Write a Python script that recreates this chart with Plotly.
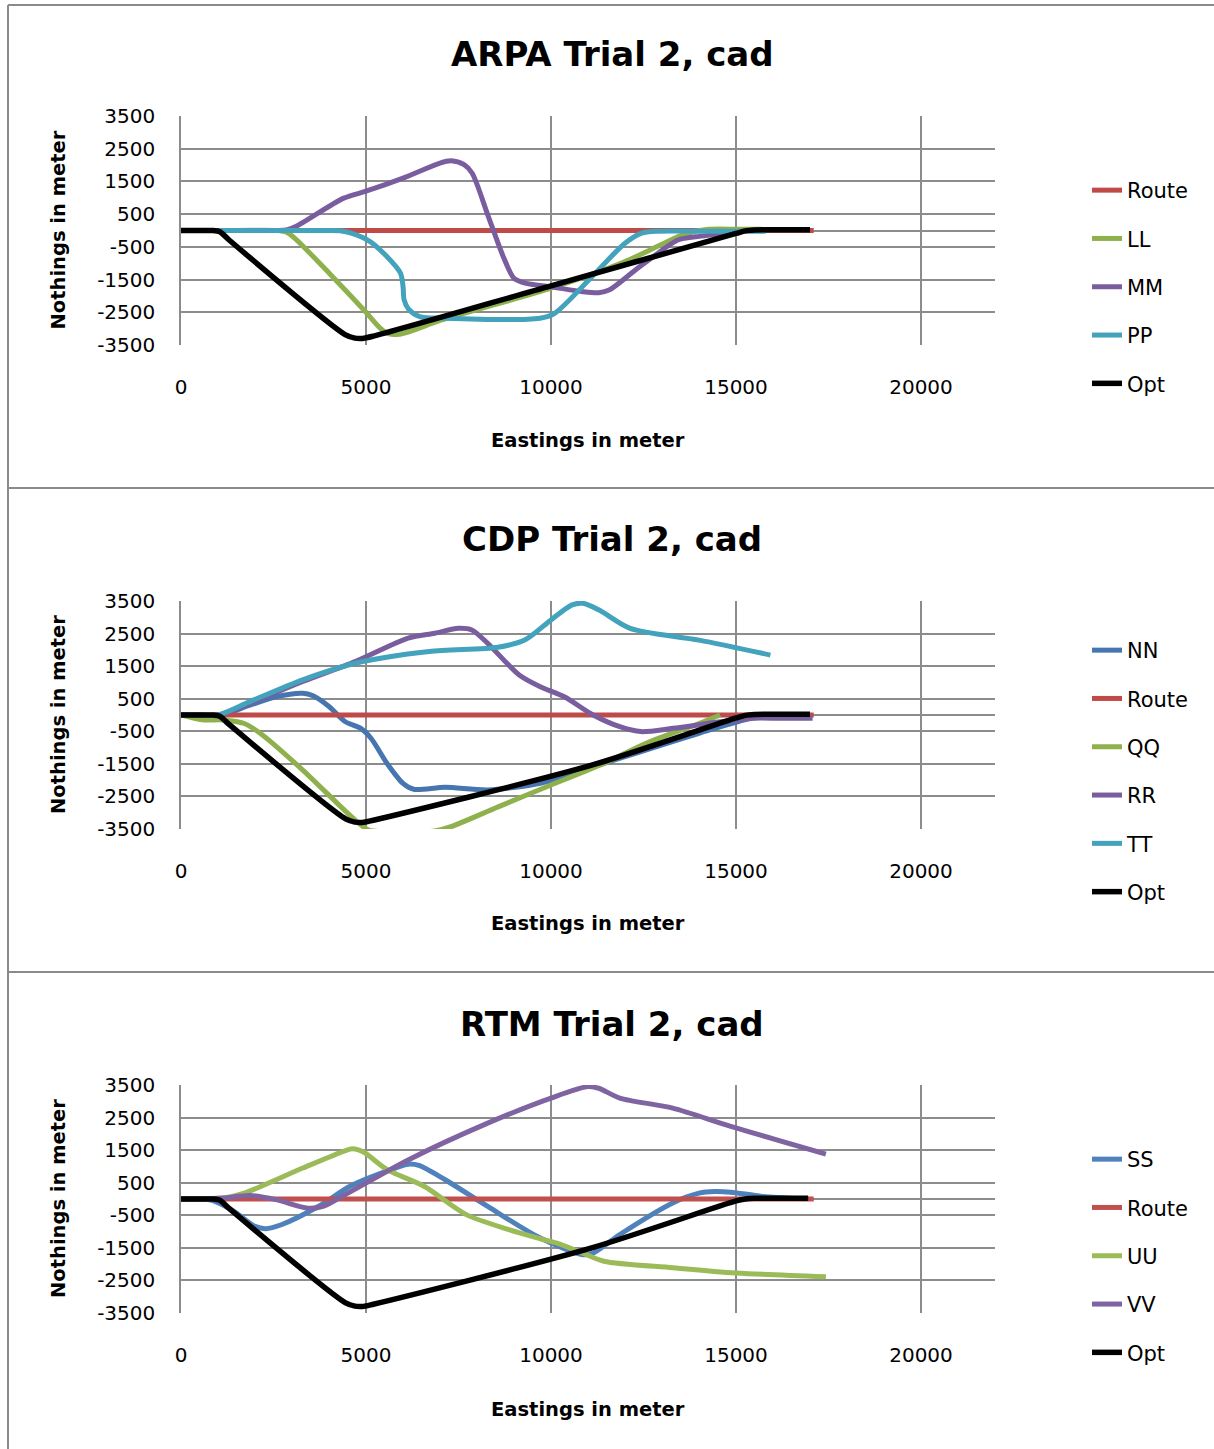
import plotly.graph_objects as go

W, H = 1214, 1449
FONT = "DejaVu Sans"

# ---------------- data ----------------
x_ticks = [0, 5000, 10000, 15000, 20000]
x_tick_labels = ["0", "5000", "10000", "15000", "20000"]
y_ticks = [-3500, -2500, -1500, -500, 500, 1500, 2500, 3500]
y_tick_labels = ["-3500", "-2500", "-1500", "-500", "500", "1500", "2500", "3500"]

panel_titles = ["ARPA Trial 2, cad", "CDP Trial 2, cad", "RTM Trial 2, cad"]

# Panel 1: ARPA
route1_x = [0, 17100]
route1_y = [0, 0]
ll1_x = [0, 1500, 2600, 2850, 3100, 4000, 5000, 5400, 5650, 5900, 6200, 7000, 8000, 9000, 10000, 11000, 12000, 13000, 13600, 14200, 15000, 15700]
ll1_y = [0, 0, 0, -50, -260, -1300, -2500, -3000, -3170, -3170, -3080, -2750, -2420, -2100, -1760, -1380, -950, -420, -110, 30, 40, 40]
mm1_x = [0, 1500, 2600, 2850, 3100, 4400, 5000, 6000, 7000, 7300, 7650, 7870, 8290, 8710, 9000, 9300, 10000, 10860, 11290, 11570, 12290, 13140, 13430, 14000, 14900]
mm1_y = [0, 0, 0, 20, 120, 990, 1200, 1600, 2060, 2130, 2010, 1750, 480, -800, -1460, -1610, -1720, -1870, -1900, -1820, -1200, -490, -290, -180, -80]
pp1_x = [0, 2000, 4000, 4300, 4600, 5100, 5550, 5930, 6000, 6030, 6150, 6450, 7100, 9700, 10100, 11100, 12000, 12450, 12900, 14000, 15800]
pp1_y = [0, 0, 0, -10, -80, -330, -780, -1300, -1700, -2120, -2400, -2630, -2680, -2680, -2530, -1420, -390, -80, -20, -20, -20]
opt1_x = [0, 500, 850, 1050, 1300, 4450, 4700, 4900, 5200, 10000, 15000, 15250, 15500, 16000, 17000]
opt1_y = [0, 0, 0, -40, -290, -3190, -3290, -3300, -3230, -1690, -90, -10, 15, 20, 20]

# Panel 2: CDP
nn2_x = [0, 500, 1000, 1860, 2570, 3290, 3570, 4000, 4430, 4860, 5140, 5570, 6000, 6290, 7140, 8290, 9710, 11140, 14000, 15430, 16200, 17000]
nn2_y = [0, 0, -30, 300, 560, 670, 590, 260, -200, -410, -720, -1490, -2100, -2280, -2220, -2300, -2100, -1590, -560, -100, -40, -30]
route2_x = [0, 17100]
route2_y = [0, 0]
qq2_x = [0, 570, 1140, 1710, 2140, 3290, 4710, 5070, 5710, 6860, 7290, 8570, 10000, 11430, 12570, 14000, 14570]
qq2_y = [0, -150, -150, -260, -560, -1690, -3230, -3530, -3590, -3560, -3430, -2820, -2150, -1490, -870, -260, 0]
rr2_x = [0, 500, 1000, 1860, 3290, 4710, 6140, 6860, 7500, 7860, 8290, 9140, 9710, 10360, 11140, 11860, 12430, 13290, 14570, 15430, 16200, 17070]
rr2_y = [0, 0, 0, 360, 1030, 1640, 2360, 2510, 2660, 2610, 2200, 1230, 870, 560, 0, -360, -510, -410, -210, -100, -100, -100]
tt2_x = [0, 500, 1000, 1860, 3290, 4710, 6710, 8570, 9290, 10000, 10570, 10860, 11290, 12140, 14000, 15930]
tt2_y = [0, 0, 0, 410, 1080, 1590, 1950, 2080, 2300, 2920, 3380, 3430, 3230, 2660, 2300, 1840]
opt2_x = [0, 500, 850, 1050, 1300, 4450, 4700, 4900, 5200, 11100, 15000, 15250, 15500, 16000, 17000]
opt2_y = [0, 0, 0, -40, -290, -3190, -3290, -3300, -3230, -1540, -90, -10, 15, 20, 20]

# Panel 3: RTM
ss3_x = [0, 500, 860, 1430, 2000, 2290, 2710, 3710, 4570, 5430, 6140, 6430, 7140, 8290, 9710, 10860, 11140, 11860, 13290, 14000, 14430, 14860, 15710, 16860]
ss3_y = [0, 0, -50, -380, -840, -910, -790, -230, 390, 800, 1070, 1030, 590, -230, -1200, -1710, -1660, -1090, -120, 180, 230, 210, 80, 10]
route3_x = [0, 17100]
route3_y = [0, 0]
uu3_x = [0, 500, 1140, 1710, 3290, 4430, 4640, 4930, 5570, 6570, 7710, 8860, 9710, 10140, 10860, 11430, 13290, 15000, 17430]
uu3_y = [0, 0, 30, 180, 950, 1480, 1540, 1440, 900, 390, -480, -940, -1220, -1350, -1660, -1910, -2110, -2270, -2390]
vv3_x = [0, 500, 1140, 1860, 2570, 3430, 3860, 4430, 6140, 8290, 10000, 11000, 11290, 11860, 13290, 14860, 17430]
vv3_y = [0, 0, 30, 110, -20, -280, -220, 130, 1200, 2330, 3100, 3450, 3400, 3100, 2790, 2230, 1380]
opt3_x = [0, 500, 850, 1050, 1300, 4450, 4700, 4900, 5200, 11100, 15000, 15250, 15500, 16000, 16950]
opt3_y = [0, 0, 0, -40, -290, -3190, -3290, -3300, -3230, -1500, -60, 0, 20, 20, 20]

RED = "#BE4B48"
GREEN = "#8FB14D"
PURPLE = "#7A5D9E"
AQUA = "#43A2BC"
BLUE = "#4675B0"
BLACK = "#000000"

panels = [
    [("Route", route1_x, route1_y, RED), ("LL", ll1_x, ll1_y, GREEN),
     ("MM", mm1_x, mm1_y, PURPLE), ("PP", pp1_x, pp1_y, AQUA), ("Opt", opt1_x, opt1_y, BLACK)],
    [("NN", nn2_x, nn2_y, BLUE), ("Route", route2_x, route2_y, RED), ("QQ", qq2_x, qq2_y, GREEN),
     ("RR", rr2_x, rr2_y, PURPLE), ("TT", tt2_x, tt2_y, AQUA), ("Opt", opt2_x, opt2_y, BLACK)],
    [("SS", ss3_x, ss3_y, "#4F81BD"), ("Route", route3_x, route3_y, "#C0504D"), ("UU", uu3_x, uu3_y, "#9BBB59"),
     ("VV", vv3_x, vv3_y, "#8064A2"), ("Opt", opt3_x, opt3_y, BLACK)],
]

# ---------------- layout geometry (pixels) ----------------
plot_left, plot_right = 181, 995
plot_tops = [116, 601, 1085]
plot_bottoms = [345, 829, 1313]
title_y = [54, 539, 1024]
xtitle_y = [440, 924, 1409]
legend_top = [170, 630, 1139]

def px_x(p):
    return p / W

def px_y(p):
    return 1 - p / H

fig = go.Figure()
layout = dict(
    width=W, height=H, margin=dict(l=0, r=0, t=0, b=0, autoexpand=False),
    paper_bgcolor="white", plot_bgcolor="white",
    font=dict(family=FONT, color="black"),
    showlegend=True,
)
GRID = "#8C8C8C"
annotations = []
shapes = []

for i, series in enumerate(panels):
    n = "" if i == 0 else str(i + 1)
    xa, ya = "x" + n, "y" + n
    leg = "legend" + n
    for name, xs, ys, col in series:
        fig.add_trace(go.Scatter(
            x=xs, y=ys, name=name, mode="lines",
            line=dict(color=col, width=5.5 if col == BLACK else 5, shape="spline", smoothing=0.8),
            xaxis=xa, yaxis=ya, legend=leg, legendgroup=f"{leg}_{name}",
        ))
    layout["xaxis" + n] = dict(
        domain=[px_x(plot_left), px_x(plot_right)], anchor=ya,
        range=[0, 22000], tickvals=x_ticks, ticktext=x_tick_labels,
        showgrid=True, gridcolor=GRID, gridwidth=1.5, zeroline=False,
        showline=False, ticks="", ticklabelstandoff=28, automargin=False,
        tickfont=dict(family=FONT, size=20, color="black"),
    )
    layout["yaxis" + n] = dict(
        domain=[px_y(plot_bottoms[i]), px_y(plot_tops[i])], anchor=xa,
        range=[-3500, 3500], tickvals=y_ticks, ticktext=y_tick_labels,
        showgrid=True, gridcolor=GRID, gridwidth=1.5,
        zeroline=True, zerolinecolor=GRID, zerolinewidth=1.5,
        showline=True, linecolor=GRID, linewidth=1.5, ticks="", ticklabelstandoff=20,
        automargin=False,
        tickfont=dict(family=FONT, size=20, color="black"),
    )
    layout[leg] = dict(
        x=px_x(1087), xanchor="left", y=px_y(legend_top[i]), yanchor="top",
        traceorder="grouped", tracegroupgap=18, bgcolor="rgba(0,0,0,0)",
        font=dict(family=FONT, size=21, color="black"), itemwidth=30,
    )
    annotations.append(dict(
        text="<b>" + panel_titles[i] + "</b>", x=612 / W, y=px_y(title_y[i]),
        xref="paper", yref="paper", xanchor="center", yanchor="middle",
        showarrow=False, font=dict(family=FONT, size=34, color="black"),
    ))
    annotations.append(dict(
        text="<b>Eastings in meter</b>", x=px_x((plot_left + plot_right) / 2), y=px_y(xtitle_y[i]),
        xref="paper", yref="paper", xanchor="center", yanchor="middle",
        showarrow=False, font=dict(family=FONT, size=19.5, color="black"),
    ))
    annotations.append(dict(
        text="<b>Nothings in meter</b>", x=px_x(58), y=px_y((plot_tops[i] + plot_bottoms[i]) / 2),
        xref="paper", yref="paper", xanchor="center", yanchor="middle", textangle=-90,
        showarrow=False, font=dict(family=FONT, size=19.5, color="black"),
    ))

# chart-area frames
FRAME = "#8A8A8A"
shapes.append(dict(type="line", xref="paper", yref="paper", x0=px_x(8), x1=px_x(8), y0=px_y(5), y1=0,
                   line=dict(color=FRAME, width=2)))
for yy in [5, 488, 972]:
    shapes.append(dict(type="line", xref="paper", yref="paper", x0=px_x(8), x1=1, y0=px_y(yy), y1=px_y(yy),
                       line=dict(color=FRAME, width=2)))

layout["annotations"] = annotations
layout["shapes"] = shapes
fig.update_layout(**layout)
fig.write_html("out.html")
